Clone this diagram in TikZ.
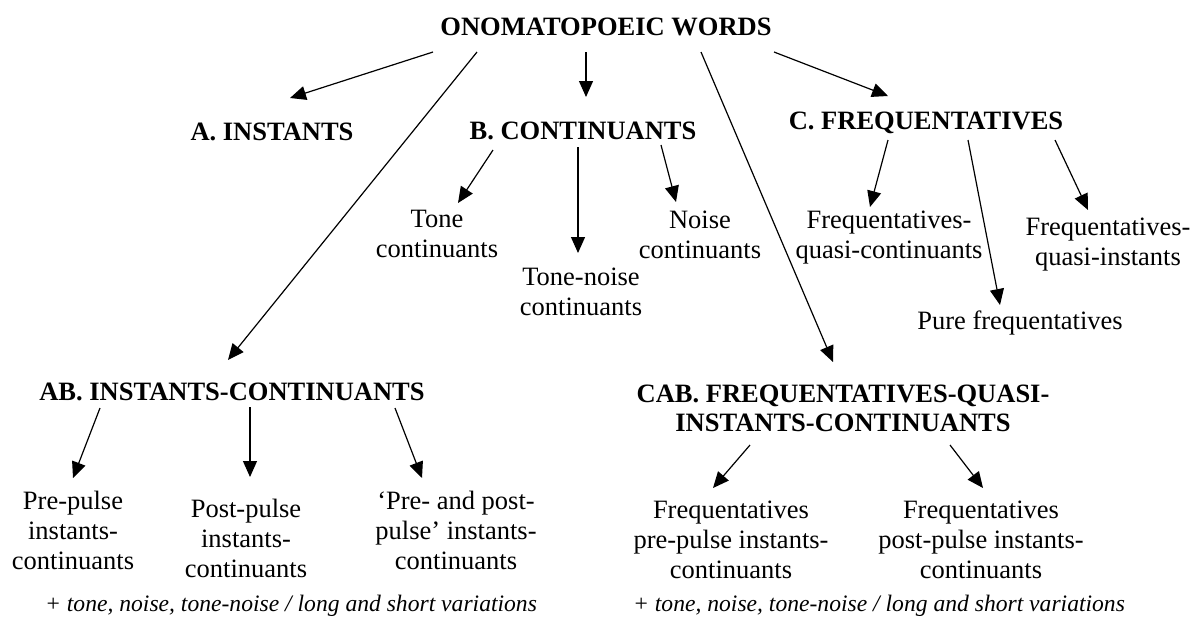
\documentclass[tikz,border=0pt]{standalone}
\usepackage{fontspec}
\setmainfont{Liberation Serif}
\usetikzlibrary{arrows.meta}

\begin{document}
\begin{tikzpicture}[x=0.5pt,y=-0.5pt,
    head/.style={font=\fontsize{13.25}{14.6}\selectfont\bfseries, inner sep=0pt, align=center},
    leaf/.style={font=\fontsize{13.25}{15}\selectfont, inner sep=0pt, align=center},
    note/.style={font=\fontsize{11.8}{13}\selectfont\itshape, inner sep=0pt},
    arr/.style={-{Triangle[length=8pt,width=7pt]}, line width=0.6pt}]

\useasboundingbox (0,0) rectangle (1197,618);

% top level
\node [head] (words) at (606,27) {ONOMATOPOEIC WORDS};

\node [head] (inst) at (272,132) {A. INSTANTS};
\node [head] (cont) at (583,131) {B. CONTINUANTS};
\node [head] (freq) at (926,123) {C. FREQUENTATIVES};
\node [head] (instcont) at (232,392) {AB. INSTANTS-CONTINUANTS};
\node [head] (freqinst) at (843,408) {CAB. FREQUENTATIVES-QUASI-\\INSTANTS-CONTINUANTS};

% continuants
\node [leaf] (tone) at (437,234) {Tone\\continuants};
\node [leaf] (tonenoise) at (581,292) {Tone-noise\\continuants};
\node [leaf] (noise) at (700,235) {Noise\\continuants};

% frequentatives
\node [leaf] (quasicont) at (889,238) {Frequentatives-\\quasi-continuants};
\node [leaf] (quasiinst) at (1108,245) {Frequentatives-\\quasi-instants};
\node [leaf] (pure) at (1020,323) {Pure frequentatives};

% instants-continuants
\node [leaf] (prepulse) at (73,530) {Pre-pulse\\instants-\\continuants};
\node [leaf] (postpulse) at (246,538) {Post-pulse\\instants-\\continuants};
\node [leaf] (prepost) at (456,530) {‘Pre- and post-\\pulse’ instants-\\continuants};

\node [leaf] (freqpre) at (731,540) {Frequentatives\\pre-pulse instants-\\continuants};
\node [leaf] (freqpost) at (981,540) {Frequentatives\\post-pulse instants-\\continuants};

\node [note] (noteab) at (291,606) {+ tone, noise, tone-noise / long and short variations};
\node [note] (notecab) at (879,606) {+ tone, noise, tone-noise / long and short variations};

% arrows
\foreach \s/\a/\t/\b in {
    {-173,25}/words/{18,-34}/inst,
    {-129,25}/words/{-4,-32}/instcont,
    {-20,25}/words/{3,-34}/cont,
    {95,25}/words/{-10,-46}/freqinst,
    {168,25}/words/{-38,-27}/freq,
    {-90,19}/cont/{21,-31}/tone,
    {-5,16}/cont/{-3,-39}/tonenoise,
    {78,14}/cont/{-24,-33}/noise,
    {-38,17}/freq/{-19,-31}/quasicont,
    {42,17}/freq/{-20,-18}/pure,
    {129,17}/freq/{-20,-35}/quasiinst,
    {-132,16}/instcont/{0,-52}/prepulse,
    {18,15}/instcont/{4,-61}/postpulse,
    {163,16}/instcont/{-34,-52}/prepost,
    {-93,37}/freqinst/{-18,-52}/freqpre,
    {107,37}/freqinst/{2,-52}/freqpost}
    \draw [arr] ([shift={(\s)}]\a.center) -- ([shift={(\t)}]\b.center);

\end{tikzpicture}
\end{document}
